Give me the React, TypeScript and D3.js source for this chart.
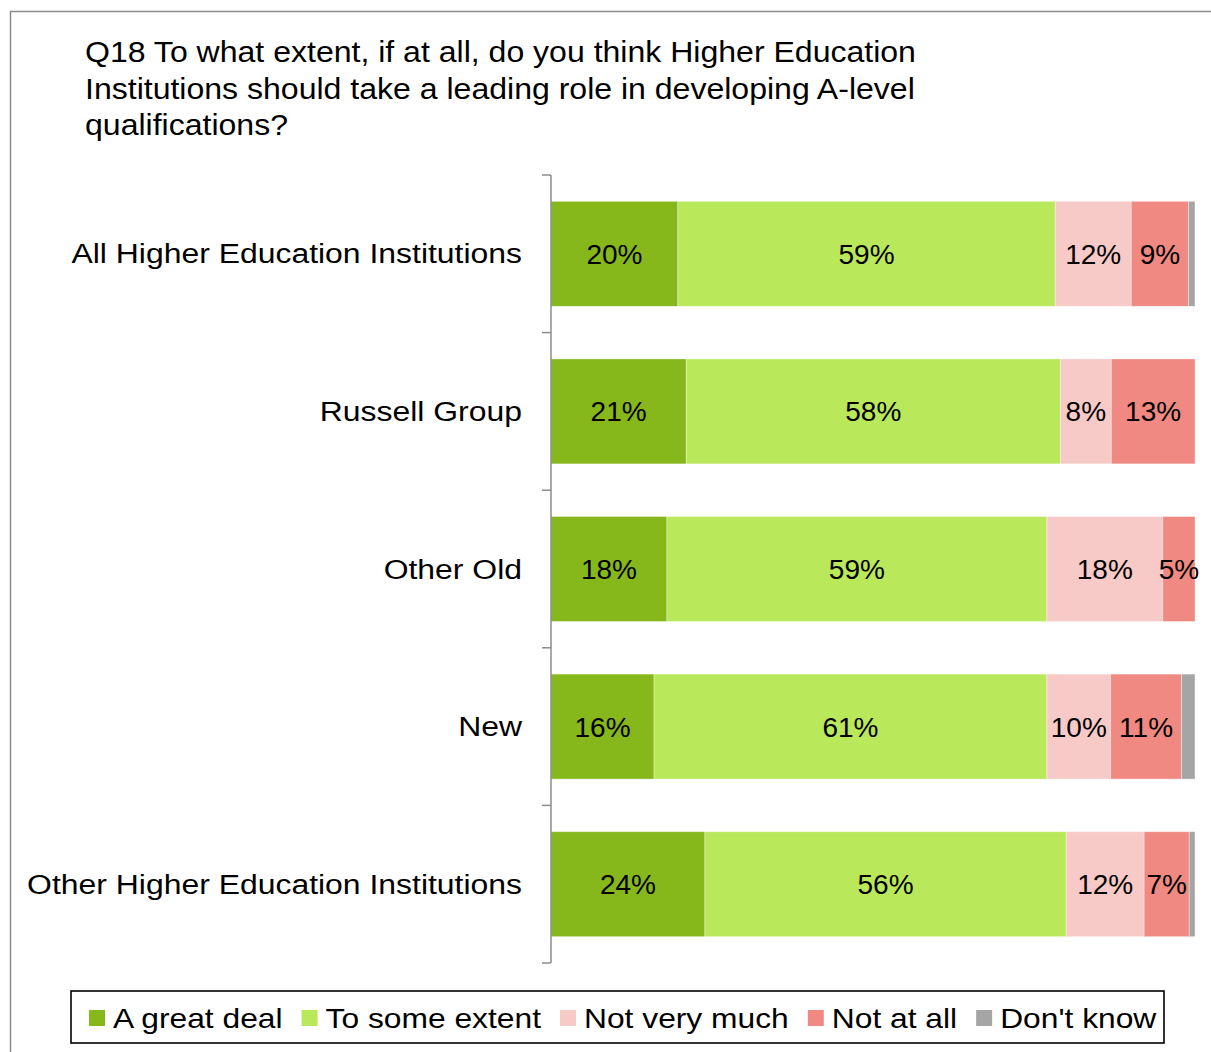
import * as d3 from "d3";
import { useEffect, useRef } from "react";

const categories = [
    "All Higher Education Institutions",
    "Russell Group",
    "Other Old",
    "New",
    "Other Higher Education Institutions",
];
const seriesNames = ["A great deal", "To some extent", "Not very much", "Not at all", "Don't know"];
const seriesColors = ["#86B71B", "#BAE85B", "#F8CAC7", "#F08982", "#A5A5A5"];

// percentages
const aGreatDeal = [19.7, 21.0, 18.0, 16.0, 23.9];
const toSomeExtent = [58.6, 58.1, 59.0, 61.0, 56.1];
const notVeryMuch = [11.8, 7.9, 18.0, 9.9, 12.1];
const notAtAll = [8.9, 13.0, 5.0, 11.0, 7.0];
const dontKnow = [1.0, 0, 0, 2.1, 0.9];

const titleLines = [
    "Q18 To what extent, if at all, do you think Higher Education",
    "Institutions should take a leading role in developing A-level",
    "qualifications?",
];

const FONT = "'Liberation Sans', Arial, sans-serif";
const STRETCH = 1.14;
const LEGEND_STRETCH = 1.135;

function App() {
    const width = 1211;
    const height = 1052;
    const legendRef = useRef<SVGGElement>(null);

    const table = categories.map((c, i) => ({
        category: c,
        [seriesNames[0]]: aGreatDeal[i],
        [seriesNames[1]]: toSomeExtent[i],
        [seriesNames[2]]: notVeryMuch[i],
        [seriesNames[3]]: notAtAll[i],
        [seriesNames[4]]: dontKnow[i],
    }));
    const stacked = d3.stack<any>().keys(seriesNames)(table);

    const x = d3.scaleLinear().domain([0, 100]).range([551, 1195]);
    const y = d3.scaleBand()
        .domain(categories)
        .range([175, 963])
        .paddingInner(0.334)
        .paddingOuter(0.167);
    const step = y.step();
    const tickYs = d3.range(categories.length + 1).map(i => 175 + i * step);

    // legend laid out from measured text widths
    useEffect(() => {
        const g = d3.select(legendRef.current);
        g.selectAll("*").remove();
        let cx = 89;
        seriesNames.forEach((name, i) => {
            g.append("rect")
                .attr("x", cx).attr("y", 1010)
                .attr("width", 16).attr("height", 16)
                .attr("fill", seriesColors[i]);
            const t = g.append("text")
                .attr("transform", `translate(${cx + 24},1028) scale(${LEGEND_STRETCH},1)`)
                .attr("font-size", 28)
                .attr("font-family", FONT)
                .attr("fill", "#000")
                .text(name);
            const w = (t.node() as SVGTextElement).getComputedTextLength() * LEGEND_STRETCH;
            cx = cx + 24 + w + 19;
        });
    }, []);

    return (
        <svg width={width} height={height} style={{ position: "absolute", left: 0, top: 0, background: "#fff" }}>
            <rect x={10.5} y={11.5} width={1250} height={1100} fill="#fff" stroke="#8c8c8c" strokeWidth={1.5} />

            {/* title */}
            <g fontFamily={FONT} fontSize={29} fill="#000">
                {titleLines.map((line, i) => (
                    <text key={i} transform={`translate(85,${62 + i * 36.5}) scale(1.105,1)`}>{line}</text>
                ))}
            </g>

            {/* bars */}
            {stacked.map((s, si) => (
                <g key={s.key} fill={seriesColors[si]}>
                    {s.map((d, i) => (
                        <rect
                            key={i}
                            x={x(d[0])}
                            y={y(categories[i])}
                            width={Math.max(0, x(d[1]) - x(d[0]))}
                            height={y.bandwidth()}
                            stroke="#fff"
                            strokeOpacity={0.45}
                            strokeWidth={0.8}
                        />
                    ))}
                </g>
            ))}

            {/* data labels */}
            <g fontFamily={FONT} fontSize={28} fill="#000" textAnchor="middle">
                {stacked.map((s, si) => s.map((d, i) => {
                    const v = d[1] - d[0];
                    if (si === 4 || v < 3) return null;
                    return (
                        <text key={`${si}-${i}`} x={(x(d[0]) + x(d[1])) / 2} y={y(categories[i])! + y.bandwidth() / 2} dy="0.36em">
                            {Math.round(v)}%
                        </text>
                    );
                }))}
            </g>

            {/* category axis */}
            <g stroke="#8c8c8c" strokeWidth={1.5}>
                <line x1={551} x2={551} y1={175} y2={963} />
                {tickYs.map((t, i) => (
                    <line key={i} x1={542} x2={551} y1={t} y2={t} />
                ))}
            </g>
            <g fontFamily={FONT} fontSize={28} fill="#000" textAnchor="end">
                {categories.map(c => (
                    <text key={c} transform={`translate(522,${y(c)! + y.bandwidth() / 2}) scale(${STRETCH},1)`} dy="0.34em">{c}</text>
                ))}
            </g>

            {/* legend */}
            <rect x={71} y={991} width={1093} height={52} fill="#fff" stroke="#000" strokeWidth={1.6} />
            <g ref={legendRef} />
        </svg>
    );
}

export default App;
